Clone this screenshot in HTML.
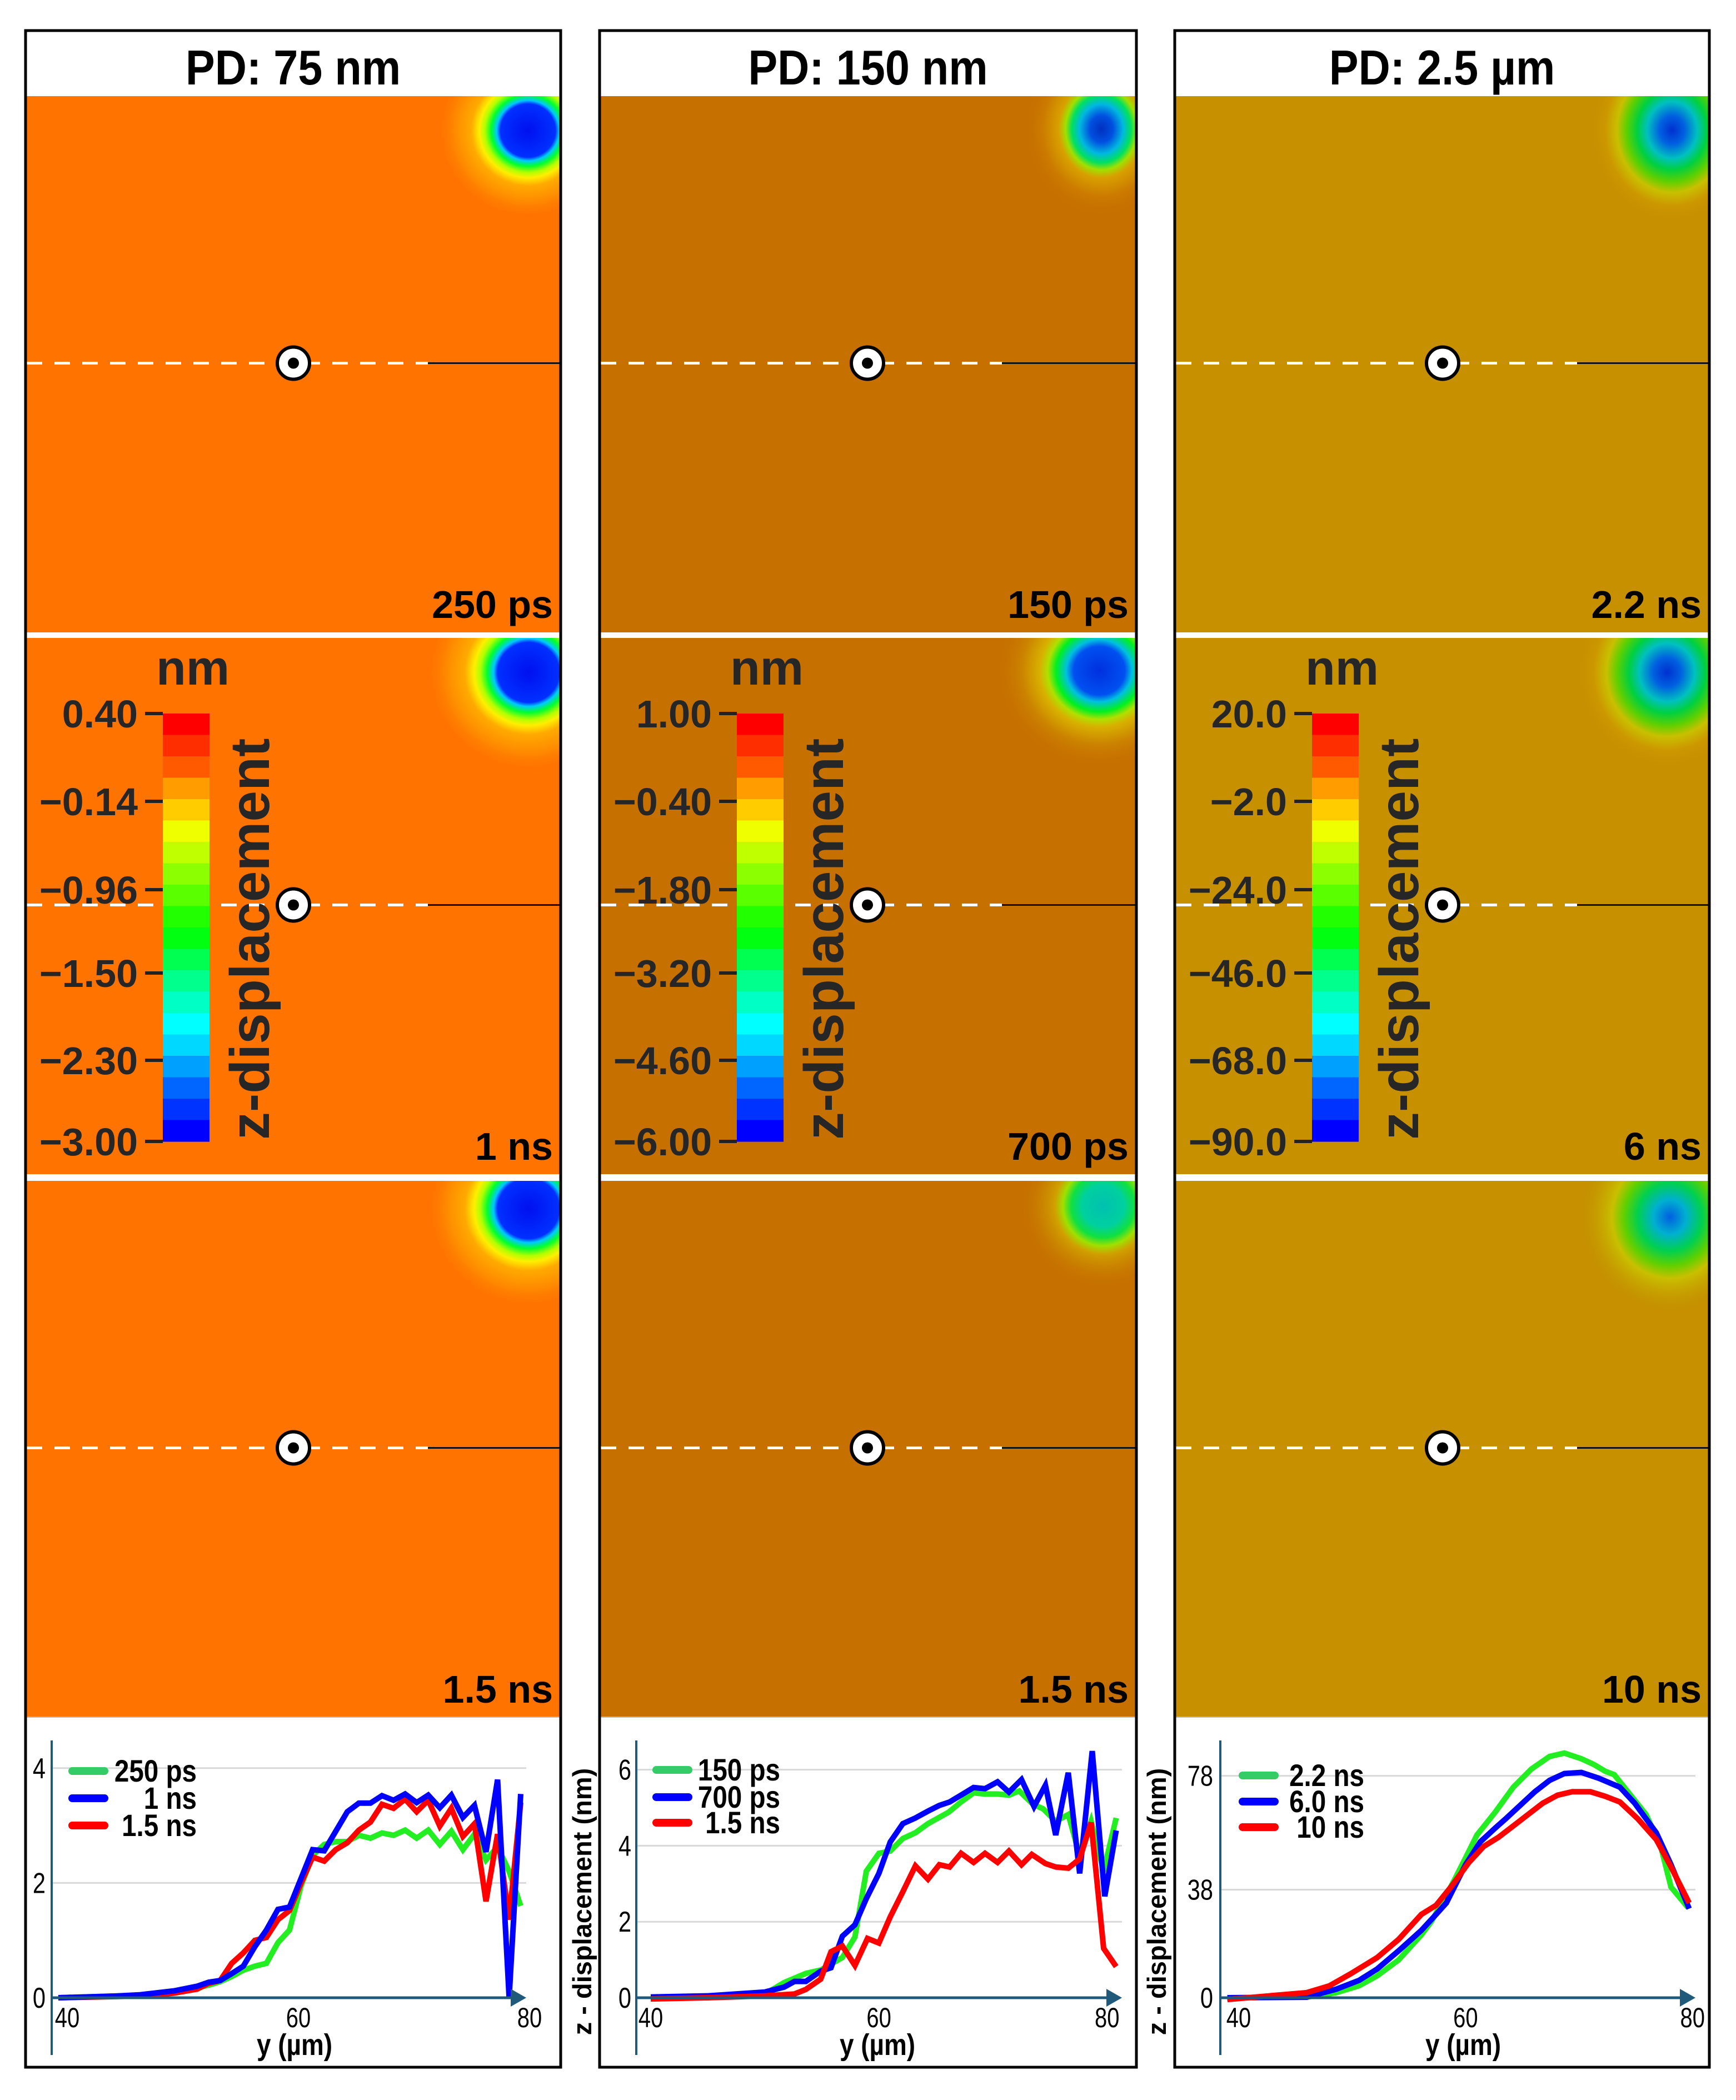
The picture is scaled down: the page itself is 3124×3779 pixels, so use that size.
<!DOCTYPE html>
<html><head><meta charset="utf-8"><style>
html,body{margin:0;padding:0;background:#fff;}
svg{display:block;}
text{font-family:"Liberation Sans",Arial,sans-serif;}
</style></head><body>
<svg id="fig" width="3124" height="3779" viewBox="0 0 3124 3779" xmlns="http://www.w3.org/2000/svg">
<defs id="defs"></defs>
<rect x="0" y="0" width="3124" height="3779" fill="#ffffff"/>
</svg>
<script>
// ---- Chart data ----
const c1X = [40,45,47,50,52,53,54,55,56,57,58,59,60,61,62,63,64,65,66,67,68,69,70,71,72,73,74,75,76,77,78,79,80];
const c1Green = [0,0.03,0.04,0.1,0.17,0.22,0.28,0.37,0.48,0.55,0.6,0.96,1.18,1.95,2.48,2.67,2.72,2.72,2.83,2.78,2.87,2.83,2.92,2.78,2.92,2.67,2.9,2.58,2.85,2.4,2.63,2.2,1.6];
const c1Blue = [0,0.03,0.05,0.12,0.2,0.27,0.3,0.42,0.55,0.89,1.18,1.54,1.58,2.08,2.58,2.56,2.9,3.24,3.39,3.39,3.52,3.44,3.55,3.4,3.53,3.31,3.53,3.14,3.35,2.54,3.8,0,3.55];
const c1Red = [0,0.02,0.03,0.08,0.15,0.25,0.3,0.6,0.78,1.0,1.05,1.36,1.52,2.0,2.45,2.38,2.58,2.7,2.92,3.06,3.37,3.3,3.46,3.24,3.44,2.99,3.3,2.81,3.03,1.68,2.85,1.36,3.4];
const c1Labels = ["250 ps","1 ns","1.5 ns"];
const c1YTicks = [0,2,4];
const c1XTicks = [40,60,80];

const c2GreenX = [40,45,50,51.7,53.6,54.9,56.8,57.9,58.9,60,61,62.1,63.2,64.3,66.1,67.2,68.3,69.3,70.4,71.4,72.3,73.5,74.4,75.5,76.6,77.6,78.6,79.7,80.8];
const c2Green = [0,0.02,0.1,0.4,0.64,0.73,1.06,1.6,3.33,3.8,3.86,4.19,4.34,4.58,4.88,5.15,5.39,5.36,5.36,5.33,5.44,5.09,4.97,4.64,4.82,3.74,4.64,3.33,4.73];
const c2BlueX = [40,45,50,51.7,52.6,53.6,54.9,55.8,56.8,57.9,58.9,60,61,62.1,63.2,64.3,65.3,66.2,67.2,68.3,69.3,70.4,71.4,72.5,73.6,74.6,75.5,76.6,77.6,78.7,79.8,80.8];
const c2Blue = [0.02,0.05,0.15,0.28,0.43,0.43,0.7,0.79,1.62,1.92,2.61,3.27,4.1,4.58,4.73,4.91,5.06,5.15,5.33,5.53,5.5,5.68,5.41,5.74,5.03,5.59,4.28,5.92,3.27,6.49,2.67,4.4];
const c2RedX = [40,45,50,52.6,53.6,54.9,55.8,56.8,57.9,59,60,61,62.1,63.2,64.3,65.3,66.2,67.2,68.3,69.3,70.4,71.4,72.5,73.4,74.6,75.5,76.6,77.6,78.6,79.7,80.8];
const c2Red = [-0.03,0,0.05,0.1,0.22,0.49,1.21,1.36,0.85,1.56,1.44,2.13,2.79,3.47,3.12,3.5,3.44,3.8,3.56,3.8,3.56,3.86,3.5,3.77,3.53,3.44,3.41,3.65,4.61,1.3,0.82];
const c2Labels = ["150 ps","700 ps","1.5 ns"];
const c2YTicks = [0,2,4,6];
const c2XTicks = [40,60,80];

const c3GreenX = [39,46.3,48.6,50.6,52.2,54.1,56.1,57,58,59,60,61,62.6,64.2,65.8,67.4,68.7,70.2,71.3,72.3,73.1,74.3,75.9,77.2,78.1,79.6];
const c3Green = [0,0.4,1.8,4.2,7.7,13.3,22.1,26.9,34,41.3,49.2,57.2,65.2,74,80.4,84.8,86,84,82,79.6,78.4,72.4,64.4,53.2,38.9,31.7];
const c3BlueX = [39,46,48.6,50.6,52.2,54.1,56.1,57.4,58.3,60,61.3,62.6,63.5,64.8,66.1,67.4,68.7,70.2,71.7,73.6,74.9,76.8,78.1,79.7];
const c3Blue = [0,0.2,3,6.1,10.1,16.5,23.7,29.3,33.3,46.8,54.8,59.6,62.8,67.6,72.4,76.4,78.8,79.2,77.2,74,68.4,58,46.8,31.3];
const c3RedX = [39,46,48,49.9,52.2,54.1,56.1,57.4,58.7,60.3,61.6,62.9,64.2,65.5,66.8,68.1,69.4,71,72.3,73.6,75.2,76.8,78.1,79.7];
const c3Red = [-0.6,1.8,4.2,8.5,14.1,20.5,29.3,32.5,38.9,47.6,53.2,56.4,60.4,64.4,68.4,71.2,72.4,72.4,70.8,68.8,62.8,55.6,46,33.3];
const c3Labels = ["2.2 ns","6.0 ns","10 ns"];
const c3YTicks = [0,38,78];
const c3XTicks = [40,60,80];

const cbLabels1 = ["0.40","\u22120.14","\u22120.96","\u22121.50","\u22122.30","\u22123.00"];
const cbLabels2 = ["1.00","\u22120.40","\u22121.80","\u22123.20","\u22124.60","\u22126.00"];
const cbLabels3 = ["20.0","\u22122.0","\u221224.0","\u221246.0","\u221268.0","\u221290.0"];
const headers = ["PD: 75 nm","PD: 150 nm","PD: 2.5 \u00b5m"];
const timeLabels = [["250 ps","1 ns","1.5 ns"],["150 ps","700 ps","1.5 ns"],["2.2 ns","6 ns","10 ns"]];

const NS = "http://www.w3.org/2000/svg";
const svg = document.getElementById('fig');
const defs = document.getElementById('defs');
function mk(tag, attrs, parent){
  const e = document.createElementNS(NS, tag);
  for (const k in attrs) e.setAttribute(k, attrs[k]);
  (parent||svg).appendChild(e);
  return e;
}
function ctext(x,y,size,anchor,parent,sx){
  return mk('text',{x:0,y:0,'text-anchor':anchor,'font-size':size,fill:'#000',transform:'translate('+x+','+y+') scale('+(sx||0.84)+',1)'},parent);
}
const cols = [{x:48,w:959,bg:'#ff7300'},{x:1081,w:962,bg:'#c67000'},{x:2116,w:958,bg:'#c69000'}];
const rowsY = [173,1148,2125];
const rowH = 965;
const cbColors = ['#ff0000','#ff2e00','#ff5a00','#ff9c00','#ffcc00','#f0ff00','#bfff00','#8cff00','#5aff00','#22ff00','#00ff10','#00ff50','#00ff8c','#00ffc4','#00ffff','#00d8ff','#00a0ff','#0066ff','#0033ff','#0000ff'];
const cbTickY = [1284,1442,1601,1751,1908,2054];
const blobs = [
 [0,0,950,235,165,160,'a'],[0,1,951,1210,185,180,'a'],[0,2,951,2175,185,180,'a'],
 [1,0,1982,232,140,160,'b'],[1,1,1978,1207,185,175,'a2'],[1,2,1985,2170,150,150,'c'],
 [2,0,3009,234,150,170,'d'],[2,1,3000,1210,165,175,'d'],[2,2,3005,2190,165,175,'e']
];
const gradStops = {
 a:[[0,'#0010f0'],[0.3,'#0030ff'],[0.34,'#00c8ff'],[0.4,'#00ff30'],[0.47,'#b0ff00'],[0.53,'#ffee00'],[0.62,'#ffaa00'],[0.8,'#ff8a00'],[1,'BG']],
 a2:[[0,'#0030e0'],[0.25,'#0050f0'],[0.32,'#00c0e0'],[0.42,'#00f020'],[0.5,'#b0e000'],[0.58,'#d8b000'],[0.75,'#cc8400'],[1,'BG']],
 b:[[0,'#0030c0'],[0.15,'#0050e0'],[0.28,'#00b8e0'],[0.38,'#00e060'],[0.46,'#a0e000'],[0.55,'#d8a000'],[0.75,'#cc7c00'],[1,'BG']],
 c:[[0,'#00c0b0'],[0.25,'#00d0a0'],[0.38,'#10e040'],[0.48,'#a0e000'],[0.58,'#d0a000'],[1,'BG']],
 d:[[0,'#0030d0'],[0.15,'#0060e0'],[0.3,'#00c0c0'],[0.42,'#00d040'],[0.55,'#60d000'],[0.66,'#c8c000'],[0.8,'#cc9800'],[1,'BG']],
 e:[[0,'#0060e0'],[0.18,'#00b0d0'],[0.35,'#00d050'],[0.5,'#60d000'],[0.63,'#c8c000'],[1,'BG']]
};

cols.forEach((c,ci)=>{
  const hb = mk('rect',{x:c.x,y:53,width:c.w,height:120,fill:'#fff'});
  
  
  const ht = ctext(c.x+c.w/2,152,88,'middle',svg,0.9);
  ht.setAttribute('font-weight','bold');
  ht.textContent = headers[ci];
  
  
  rowsY.forEach((ry,ri)=>{
    const cp = mk('clipPath',{id:'clip'+ci+ri},defs);
    mk('rect',{x:c.x,y:ry,width:c.w,height:rowH},cp);
    const g = mk('g',{'clip-path':'url(#clip'+ci+ri+')'});
    
    
    mk('rect',{x:c.x,y:ry,width:c.w,height:rowH,fill:c.bg},g);
    blobs.filter(b=>b[0]===ci&&b[1]===ri).forEach((b,bi)=>{
      const gid='grad'+ci+ri+bi;
      const rg = mk('radialGradient',{id:gid},defs);
      gradStops[b[6]].forEach(s=>{
        const col = s[1]==='BG'?c.bg:s[1];
        mk('stop',{offset:s[0],'stop-color':col,'stop-opacity':s[1]==='BG'?0:1},rg);
      });
      const el = mk('ellipse',{cx:b[2],cy:b[3],rx:b[4],ry:b[5],fill:'url(#'+gid+')'},g);
      
      
    });
    const cy = ry + rowH/2 - 2;
    const dl = mk('line',{x1:c.x,y1:cy,x2:c.x+722,y2:cy,stroke:'#fff','stroke-width':5,'stroke-dasharray':'28,22'},g);
    
    
    const sl = mk('line',{x1:c.x+722,y1:cy,x2:c.x+c.w,y2:cy,stroke:'#111','stroke-width':3},g);
    
    
    const mark = mk('g',{},g);
    
    
    mk('circle',{cx:c.x+480,cy:cy,r:29,fill:'#fff',stroke:'#000','stroke-width':6},mark);
    mk('circle',{cx:c.x+480,cy:cy,r:10,fill:'#000'},mark);
    const tl = mk('text',{x:c.x+c.w-12,y:ry+rowH-26,'text-anchor':'end','font-size':70,'font-weight':'bold',fill:'#000'},g);
    tl.textContent = timeLabels[ci][ri];
    
    
    if(ri===1){
      const cb = mk('g',{},g);
      
      
      const top=1284, bot=2054, bh=(bot-top)/cbColors.length;
      cbColors.forEach((col,k)=>{
        mk('rect',{x:c.x+245,y:top+k*bh,width:84,height:bh+0.6,fill:col},cb);
      });
      const labs = [cbLabels1,cbLabels2,cbLabels3][ci];
      labs.forEach((t,k)=>{
        mk('line',{x1:c.x+213,y1:cbTickY[k],x2:c.x+245,y2:cbTickY[k],stroke:'#222','stroke-width':6},cb);
        const lt = mk('text',{x:c.x+200,y:cbTickY[k]+25,'text-anchor':'end','font-size':70,'font-weight':'bold',fill:'#262626'},cb);
        lt.textContent = t;
        
        
      });
      const nm = mk('text',{x:c.x+233,y:1232,'font-size':88,'font-weight':'bold',fill:'#262626'},cb);
      nm.textContent='nm';
      
      
      const zt = mk('text',{x:0,y:0,'font-size':100,'font-weight':'bold',fill:'#262626',transform:'translate('+(c.x+436)+',2051) rotate(-90)'},cb);
      zt.textContent='z-displacement';
      
      
    }
  });
  mk('rect',{x:c.x,y:1138,width:c.w,height:10,fill:'#fff'});
  mk('rect',{x:c.x,y:2113,width:c.w,height:12,fill:'#fff'});
  mk('rect',{x:c.x,y:3090,width:c.w,height:632,fill:'#fff'});
  mk('line',{x1:c.x,y1:3090,x2:c.x+c.w,y2:3090,stroke:'#bbb','stroke-width':2});
  const br = mk('rect',{x:c.x-2,y:55,width:c.w+4,height:3665,fill:'none',stroke:'#000','stroke-width':5});
  
  
});

// ---- line charts ----
const charts = [
 {name:'chart-75nm',ax:93,x0:105,kx:20.8,y0:3595,ky:103.3,tipX:947,yT:c1YTicks,xT:c1XTicks,ylabR:82,xlabOff:16,xTitle:530,
  series:[[c1X,c1Green,'#22ee22'],[c1X,c1Red,'#ff0000'],[c1X,c1Blue,'#0000ff']],labels:c1Labels,legX:130,legY:[3187,3236,3285],legTxt:354,yTitleX:null},
 {name:'chart-150nm',ax:1145,x0:1171,kx:20.53,y0:3595,ky:68.4,tipX:2019,yT:c2YTicks,xT:c2XTicks,ylabR:1136,xlabOff:0,xTitle:1579,
  series:[[c2GreenX,c2Green,'#22ee22'],[c2BlueX,c2Blue,'#0000ff'],[c2RedX,c2Red,'#ff0000']],labels:c2Labels,legX:1181,legY:[3185,3234,3280],legTxt:1404,yTitleX:1064},
 {name:'chart-2p5um',ax:2196,x0:2229,kx:20.42,y0:3595,ky:5.12,tipX:3051,yT:c3YTicks,xT:c3XTicks,ylabR:2183,xlabOff:0,xTitle:2633,
  series:[[c3GreenX,c3Green,'#22ee22'],[c3BlueX,c3Blue,'#0000ff'],[c3RedX,c3Red,'#ff0000']],labels:c3Labels,legX:2236,legY:[3195,3242,3288],legTxt:2455,yTitleX:2098}
];
const legColors = ['#33cc66','#0000ff','#ff0000'];
charts.forEach(ch=>{
  const g = mk('g',{});
  
  
  const X = v=>ch.x0+(v-40)*ch.kx;
  const Y = v=>ch.y0-v*ch.ky;
  ch.yT.forEach(t=>{
    if(t!==0){
      const gl = mk('line',{x1:ch.ax,y1:Y(t),x2:ch.tipX,y2:Y(t),stroke:'#d8d8d8','stroke-width':3},g);
      
      
    }
    const tl = ctext(ch.ylabR,Y(t)+18,52,'end',g,0.8);
    tl.textContent = t;
    
    
  });
  ch.xT.forEach(t=>{
    const tl = ctext(X(t)+ch.xlabOff,3648,50,'middle',g,0.8);
    tl.textContent = t;
    
    
  });
  const yax = mk('line',{x1:ch.ax,y1:3132,x2:ch.ax,y2:3698,stroke:'#1f5a7a','stroke-width':4},g);
  
  
  ch.series.forEach((s,si)=>{
    const pts = s[0].map((x,i)=>X(x).toFixed(1)+','+Y(s[1][i]).toFixed(1)).join(' ');
    const pl = mk('polyline',{points:pts,fill:'none',stroke:s[2],'stroke-width':10,'stroke-linejoin':'miter','stroke-miterlimit':4},g);
    
    
  });
  const xax = mk('line',{x1:ch.ax,y1:ch.y0,x2:ch.tipX-20,y2:ch.y0,stroke:'#1f5a7a','stroke-width':5},g);
  
  
  const ar = mk('polygon',{points:(ch.tipX-28)+','+(ch.y0-16)+' '+ch.tipX+','+ch.y0+' '+(ch.tipX-28)+','+(ch.y0+16),fill:'#1f5a7a'},g);
  
  
  const xt = ctext(ch.xTitle,3698,54,'middle',g,0.85);
  xt.setAttribute('font-weight','bold');
  xt.textContent='y (\u00b5m)';
  
  
  ch.labels.forEach((lb,li)=>{
    const ll = mk('line',{x1:ch.legX,y1:ch.legY[li],x2:ch.legX+58,y2:ch.legY[li],stroke:legColors[li],'stroke-width':14,'stroke-linecap':'round'},g);
    
    
    const lt = ctext(ch.legTxt,ch.legY[li]+19,56,'end',g,0.85);
    lt.setAttribute('font-weight','bold');
    lt.textContent=lb;
    
    
  });
  if(ch.yTitleX){
    const yt = mk('text',{x:0,y:0,'text-anchor':'middle','font-size':47,'font-weight':'bold',fill:'#000',transform:'translate('+ch.yTitleX+',3422) rotate(-90)'},svg);
    yt.textContent='z - displacement (nm)';
    
    
  }
});
</script>
</body></html>
